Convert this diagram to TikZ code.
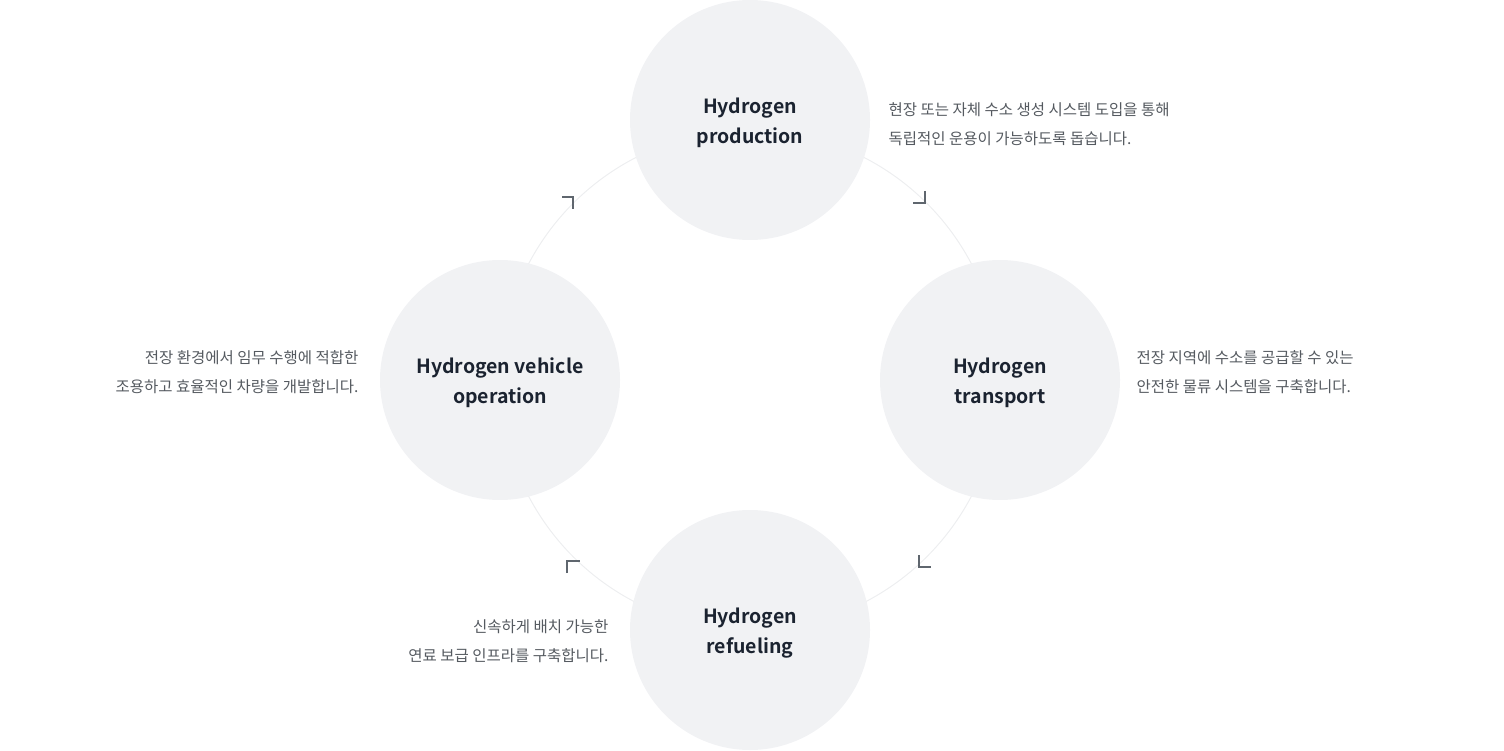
\documentclass[tikz,border=0pt]{standalone}
\usepackage{fontspec}
\setmainfont{Noto Sans}
\newfontfamily\kr{Noto Sans CJK KR}
\newfontfamily\krb{Noto Sans CJK KR Bold}
\begin{document}
\begin{tikzpicture}[x=1pt,y=-1pt,
  stage/.style={circle,fill=cfill,minimum size=240pt,inner sep=0pt,align=center,text=ctitle,font=\krb\fontsize{19.5}{30}\selectfont},
  descl/.style={align=left,anchor=west,text=cdesc,font=\kr\fontsize{15.5}{29}\selectfont},
  descr/.style={align=right,anchor=east,text=cdesc,font=\kr\fontsize{15.5}{29}\selectfont},
  cornermark/.style={draw=cmark,line width=1.6pt}]
\definecolor{cfill}{HTML}{F1F2F4}
\definecolor{ctitle}{HTML}{1B2330}
\definecolor{cdesc}{HTML}{555A60}
\definecolor{cmark}{HTML}{5F666E}
\definecolor{cring}{HTML}{EDEEF0}
\useasboundingbox (0,0) rectangle (1504,751);
\coordinate (c) at (750,380);
\draw[cring,line width=1pt] (c) circle (250);
\node[stage] (top) at (750,120) {};
\node[stage] (right) at (1000,380) {};
\node[stage] (bottom) at (750,630) {};
\node[stage] (left) at (500,380) {};
\node[stage,fill=none,minimum size=0pt] (ttop) at (750,123) {Hydrogen\\production};
\node[stage,fill=none,minimum size=0pt] (tright) at (1000,383) {Hydrogen\\transport};
\node[stage,fill=none,minimum size=0pt] (tbottom) at (750,633) {Hydrogen\\refueling};
\node[stage,fill=none,minimum size=0pt] (tleft) at (500,383) {Hydrogen vehicle\\operation};
\node[descl] (dt) at (885,124) {현장 또는 자체 수소 생성 시스템 도입을 통해\\독립적인 운용이 가능하도록 돕습니다.};
\node[descl] (dr) at (1133,372) {전장 지역에 수소를 공급할 수 있는\\안전한 물류 시스템을 구축합니다.};
\node[descr] (dl) at (362,372) {전장 환경에서 임무 수행에 적합한\\조용하고 효율적인 차량을 개발합니다.};
\node[descr] (db) at (612,641) {신속하게 배치 가능한\\연료 보급 인프라를 구축합니다.};
\coordinate (m1) at (573,197);
\draw[cornermark] (m1) ++(-11,0) -- (m1) -- ++(0,12);
\coordinate (m2) at (925,203);
\draw[cornermark] (m2) ++(0,-12) -- (m2) -- ++(-12,0);
\coordinate (m3) at (919,567);
\draw[cornermark] (m3) ++(0,-12) -- (m3) -- ++(12,0);
\coordinate (m4) at (567,561);
\draw[cornermark] (m4) ++(0,12) -- (m4) -- ++(13,0);
\end{tikzpicture}
\end{document}
